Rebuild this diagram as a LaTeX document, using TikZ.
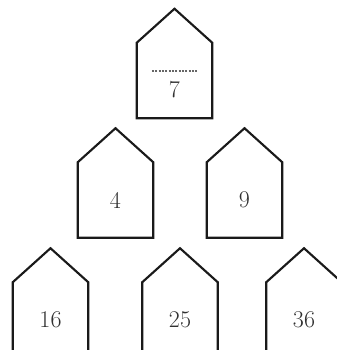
\documentclass[tikz,border=0pt]{standalone}
\usetikzlibrary{calc}

\definecolor{wallgray}{HTML}{1A1A1A}
\definecolor{numgray}{HTML}{303030}

\tikzset{
    house/.style={rectangle, minimum width=56.25pt, minimum height=56.25pt,
        inner sep=0pt, text=numgray, font=\fontsize{18}{21}\selectfont},
    wall/.style={draw=wallgray, line width=1.6pt, line join=miter},
    blank/.style={draw=gray!80!black, line width=1.5pt, densely dotted}
}

\begin{document}
\begin{tikzpicture}[x=0.75pt, y=-0.75pt]

\useasboundingbox (0,0) rectangle (336,350);

% top of the pyramid
\node [house] (h7) at (174.5,80.5) {};
\node [house, minimum size=0pt] (n7) at ([yshift=-7pt]h7.center) {7};
\draw [blank] ([xshift=-17pt,yshift=7pt]h7.center) -- ([xshift=17pt,yshift=7pt]h7.center);

% middle row
\node [house] (h4) at (115.5,200) {4};
\node [house] (h9) at (244.5,200) {9};

% bottom row
\node [house] (h16) at (50.5,320) {16};
\node [house] (h25) at (180,320) {25};
\node [house] (h36) at (304,320) {36};

% outlines with roofs
\foreach \n in {h7,h4,h9,h16,h25,h36}
    \draw [wall] (\n.south west) -- (\n.north west) -- ([yshift=25.5pt]\n.north)
        -- (\n.north east) -- (\n.south east) -- cycle;

\end{tikzpicture}
\end{document}
